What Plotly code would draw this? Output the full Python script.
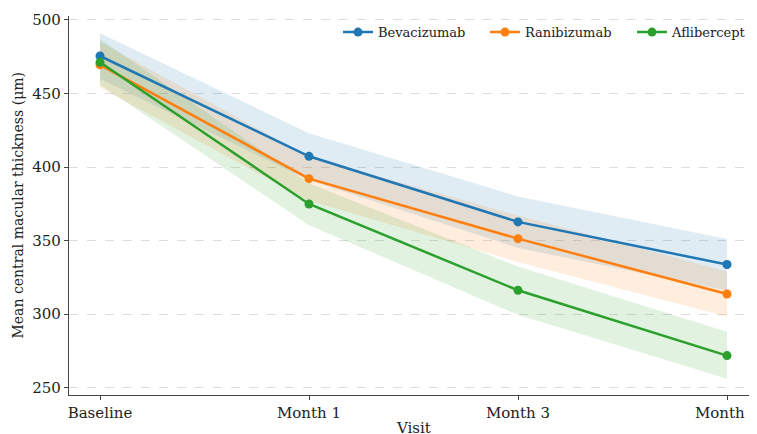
import plotly.graph_objects as go

visits = ["Baseline", "Month 1", "Month 3", "Month 6"]
series_names = ["Bevacizumab", "Ranibizumab", "Aflibercept"]
colors = ["#1f77b4", "#ff7f0e", "#2ca02c"]
fills = ["rgba(31,119,180,0.14)", "rgba(255,127,14,0.14)", "rgba(44,160,44,0.14)"]

bev_mean = [475.5, 407.3, 362.7, 333.7]
bev_low = [460.0, 391.0, 345.0, 316.0]
bev_high = [491.0, 423.0, 380.0, 351.0]

ran_mean = [469.5, 392.1, 351.3, 313.7]
ran_low = [454.0, 377.0, 335.5, 298.3]
ran_high = [485.0, 407.0, 367.0, 329.0]

afl_mean = [471.2, 374.9, 316.2, 271.8]
afl_low = [456.0, 360.5, 299.5, 256.0]
afl_high = [487.0, 389.0, 332.3, 288.0]

means = [bev_mean, ran_mean, afl_mean]
lows = [bev_low, ran_low, afl_low]
highs = [bev_high, ran_high, afl_high]

y_ticks = [250, 300, 350, 400, 450, 500]

fig = go.Figure()
for name, col, fc, m, lo, hi in zip(series_names, colors, fills, means, lows, highs):
    fig.add_trace(go.Scatter(x=visits, y=hi, mode="lines", line=dict(width=0),
                             showlegend=False, hoverinfo="skip"))
    fig.add_trace(go.Scatter(x=visits, y=lo, mode="lines", line=dict(width=0),
                             fill="tonexty", fillcolor=fc,
                             showlegend=False, hoverinfo="skip"))
legend_widths = [102, 102, 70]
for name, col, m, lw in zip(series_names, colors, means, legend_widths):
    fig.add_trace(go.Scatter(x=visits, y=m, mode="lines+markers", name=name,
                             line=dict(color=col, width=2.5),
                             marker=dict(color=col, size=9), legendwidth=lw))

# the page places the figure 8px in from the top-left corner
W, H = 741, 434
L, R, T, B = 61, 0, 8, 47
plot_w = W - L - R
px_per_cat = 209.0
x0 = -31.0 / px_per_cat
x1 = x0 + plot_w / px_per_cat

font_family = "DejaVu Serif"
fig.update_layout(
    width=W, height=H,
    margin=dict(l=L, r=R, t=T, b=B),
    paper_bgcolor="white", plot_bgcolor="white",
    font=dict(family=font_family, size=15, color="#222"),
    legend=dict(orientation="h", x=(330 - L) / plot_w, xanchor="left",
                y=0.997, yanchor="top", traceorder="normal",
                bgcolor="rgba(0,0,0,0)", font=dict(size=13, family=font_family),
                itemwidth=30, entrywidth=102, entrywidthmode="pixels"),
    xaxis=dict(range=[x0, x1], showgrid=False,
               showline=True, linecolor="#444",
               linewidth=1.2, ticks="outside", ticklen=4, tickcolor="#444",
               tickfont=dict(size=15), automargin=False, zeroline=False),
    yaxis=dict(range=[245, 502.7], tickvals=y_ticks, showgrid=True,
               gridcolor="#dddddd", griddash="dash", gridwidth=1,
               showline=True, linecolor="#444", linewidth=1.2,
               ticks="outside", ticklen=4, tickcolor="#444",
               tickfont=dict(size=15), automargin=False, zeroline=False),
    annotations=[
        dict(text="Visit", xref="paper", yref="paper", x=(405 - L) / plot_w, y=0,
             xanchor="center", yanchor="top", yshift=-22, showarrow=False,
             font=dict(size=15, family=font_family, color="#222")),
        dict(text="Mean central macular thickness (μm)", xref="paper", yref="paper",
             x=0, y=0.5, xanchor="center", yanchor="middle", xshift=-52,
             textangle=-90, showarrow=False,
             font=dict(size=14, family=font_family, color="#222")),
    ],
)
fig.write_html("out.html")
